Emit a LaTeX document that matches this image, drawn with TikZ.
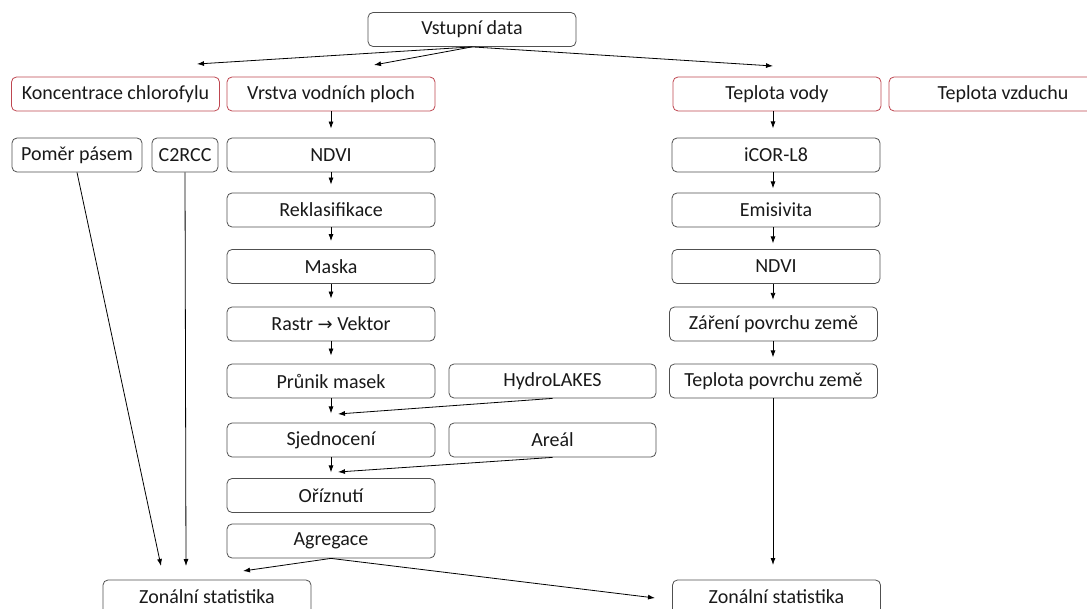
\documentclass[tikz,border=0pt]{standalone}
\usepackage{fontspec}
\setmainfont{Carlito}
\newfontfamily\arrowfont{DejaVu Sans}
\usepackage{tikz}
\usetikzlibrary{arrows.meta, positioning}
\definecolor{inred}{RGB}{190,70,80}
\definecolor{boxgray}{RGB}{80,80,80}
\tikzstyle{box} = [rectangle, draw=boxgray, line width=0.8pt, rounded corners=5pt, minimum width=208pt, minimum height=34pt, inner sep=0pt, text=black!90, font=\fontsize{20}{24}\selectfont]
\tikzstyle{input} = [box, draw=inred]
\tikzstyle{arrow} = [line width=0.8pt, -{Latex[length=7pt,width=5pt]}]

\begin{document}
\begin{tikzpicture}[x=1pt, y=-1pt]
    \useasboundingbox (0,0) rectangle (1087,609);

    % Input data
    \node [box] (vstup) at (472,29.5) {Vstupní data};
    \node [input] (chlor) at (115.5,94) {Koncentrace chlorofylu};
    \node [input] (vrstva) at (331,94) {Vrstva vodních ploch};
    \node [input] (tvody) at (777,94) {Teplota vody};
    \node [input, minimum width=228pt] (tvzd) at (1003,94) {Teplota vzduchu};

    % Chlorophyll branch
    \node [box, minimum width=130pt] (pomer) at (77,155) {Poměr pásem};
    \node [box, minimum width=66pt] (c2rcc) at (185,155) {C2RCC};

    % Water layer branch
    \node [box] (ndvi_l) at (331,155) {NDVI};
    \node [box] (reklas) at (331,210) {Reklasifikace};
    \node [box] (maska) at (331,266.5) {Maska};
    \node [box] (rastr) at (331,324) {Rastr {\arrowfont\fontsize{18}{24}\selectfont →} Vektor};
    \node [box] (prunik) at (331,381) {Průnik masek};
    \node [box, minimum width=207pt] (hydro) at (552.5,381) {HydroLAKES};
    \node [box] (sjedn) at (331,440) {Sjednocení};
    \node [box, minimum width=207pt] (areal) at (552.5,440) {Areál};
    \node [box] (orez) at (331,495.5) {Oříznutí};
    \node [box] (agreg) at (331,541) {Agregace};

    % Water temperature branch
    \node [box] (icor) at (776,155) {iCOR-L8};
    \node [box] (emis) at (776,210) {Emisivita};
    \node [box] (ndvi_r) at (776,266.5) {NDVI};
    \node [box] (zareni) at (773.5,324) {Záření povrchu země};
    \node [box] (tpovrch) at (773.5,381) {Teplota povrchu země};

    % Outputs
    \node [box] (zonal_l) at (207,597) {Zonální statistika};
    \node [box] (zonal_r) at (776.5,597) {Zonální statistika};

    % Free arrow ends
    \coordinate (to_chlor) at (197,64);
    \coordinate (to_vrstva) at (374,65);
    \coordinate (to_tvody) at (773,66);
    \coordinate (join_hydro) at (338,414);
    \coordinate (join_areal) at (338,472);
    \coordinate (to_zl_a) at (161,566);
    \coordinate (to_zl_b) at (186,566);
    \coordinate (to_zl_c) at (243,571);
    \coordinate (to_zr_a) at (655,598);
    \coordinate (to_zr_b) at (773,565);

    % Connection Arrows
    \draw [arrow] (vstup.south) -- (to_chlor);
    \draw [arrow] (vstup.south) -- (to_vrstva);
    \draw [arrow] (vstup.south) -- (to_tvody);

    \draw [arrow, shorten >=9pt] (vrstva) -- (ndvi_l);
    \draw [arrow, shorten >=8pt] (ndvi_l) -- (reklas);
    \draw [arrow, shorten >=8pt] (reklas) -- (maska);
    \draw [arrow, shorten >=8pt] (maska) -- (rastr);
    \draw [arrow, shorten >=8pt] (rastr) -- (prunik);
    \draw [arrow] (prunik.south) -- ++(0,15);
    \draw [arrow] (hydro.south) -- (join_hydro);
    \draw [arrow] (sjedn.south) -- ++(0,15);
    \draw [arrow] (areal.south) -- (join_areal);

    \draw [arrow] (pomer.south) -- (to_zl_a);
    \draw [arrow] (c2rcc.south) -- (to_zl_b);
    \draw [arrow] (agreg.south) -- (to_zl_c);
    \draw [arrow] (agreg.south) -- (to_zr_a);

    \draw [arrow] (tvody.south -| to_tvody) -- ++(0,17);
    \draw [arrow] (icor.south -| to_tvody) -- ++(0,16);
    \draw [arrow] (emis.south -| to_tvody) -- ++(0,16);
    \draw [arrow] (ndvi_r.south -| to_tvody) -- ++(0,16);
    \draw [arrow] (zareni.south -| to_tvody) -- ++(0,16);
    \draw [arrow] (tpovrch.south -| to_tvody) -- (to_zr_b);
\end{tikzpicture}
\end{document}
